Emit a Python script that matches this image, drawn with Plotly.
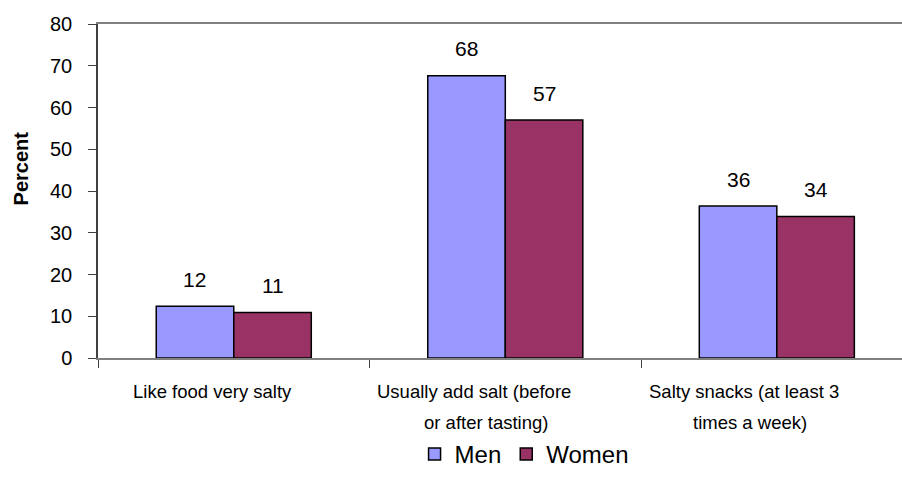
import plotly.graph_objects as go

categories = ["Like food very salty",
              "Usually add salt (before or after tasting)",
              "Salty snacks (at least 3 times a week)"]
tick_label_lines = [["Like food very salty"],
                    ["Usually add salt (before", "or after tasting)"],
                    ["Salty snacks (at least 3", "times a week)"]]
men = [12.4, 67.6, 36.4]
women = [10.9, 57.0, 33.9]
series_names = ["Men", "Women"]
y_ticks = [0, 10, 20, 30, 40, 50, 60, 70, 80]

FONT = "Arial, Liberation Sans, sans-serif"
MEN_COLOR = "#9999FF"
WOMEN_COLOR = "#993366"

fig = go.Figure()
fig.add_trace(go.Bar(x=categories, y=men, name=series_names[0],
                     marker=dict(color=MEN_COLOR, line=dict(color="#000000", width=1.5))))
fig.add_trace(go.Bar(x=categories, y=women, name=series_names[1],
                     marker=dict(color=WOMEN_COLOR, line=dict(color="#000000", width=1.5))))

annotations = []
# data labels
half_bar_px = 38.8
for vals, shift in ((men, -half_bar_px), (women, half_bar_px)):
    for c, v in zip(categories, vals):
        annotations.append(dict(x=c, y=v, xref="x", yref="y", text=f"{v:.0f}",
                                showarrow=False, xshift=shift, yshift=27,
                                yanchor="middle", xanchor="center",
                                font=dict(family=FONT, size=21, color="#000000")))
# category labels
line_offsets = [[-21], [-31, -19], [-33, -27]]
for c, lines, offs in zip(categories, tick_label_lines, line_offsets):
    for i, (ln, off) in enumerate(zip(lines, offs)):
        annotations.append(dict(x=c, y=0, xref="x", yref="paper", text=ln,
                                showarrow=False, xshift=off, yshift=-33 - 31 * i,
                                yanchor="middle", xanchor="center",
                                font=dict(family=FONT, size=18.5, color="#000000")))
# y axis title
annotations.append(dict(x=0, y=0.566, xref="paper", yref="paper", text="<b>Percent</b>",
                        showarrow=False, textangle=-90, xshift=-77.5,
                        xanchor="center", yanchor="middle",
                        font=dict(family=FONT, size=20, color="#000000")))

fig.update_layout(
    width=902, height=477,
    margin=dict(l=98, r=0, t=24, b=119, autoexpand=False),
    paper_bgcolor="white", plot_bgcolor="white",
    barmode="group", bargap=0.429, bargroupgap=0,
    font=dict(family=FONT, color="#000000"),
    showlegend=True,
    legend=dict(orientation="h", xref="container", yref="container",
                x=0.581, y=-0.013, xanchor="center", yanchor="bottom",
                font=dict(family=FONT, size=24, color="#000000"),
                itemwidth=30, traceorder="normal", bgcolor="rgba(0,0,0,0)"),
    annotations=annotations,
)
fig.update_xaxes(type="category", range=[-0.5, 2.461], tickson="boundaries",
                 ticks="outside", ticklen=8, tickcolor="#404040",
                 showticklabels=False, showgrid=False, zeroline=False,
                 showline=True, linecolor="#808080", linewidth=1.5, mirror=True)
fig.update_yaxes(range=[0, 80], tickvals=y_ticks, ticks="outside", ticklen=8,
                 tickcolor="#404040", showgrid=False, zeroline=False,
                 showline=True, linecolor="#404040", linewidth=1.5,
                 tickfont=dict(family=FONT, size=20, color="#000000"),
                 ticklabelstandoff=12)

fig.write_html("out.html",
               config={"displayModeBar": False},
               post_script="document.body.style.margin='0';document.body.style.overflow='hidden';")
